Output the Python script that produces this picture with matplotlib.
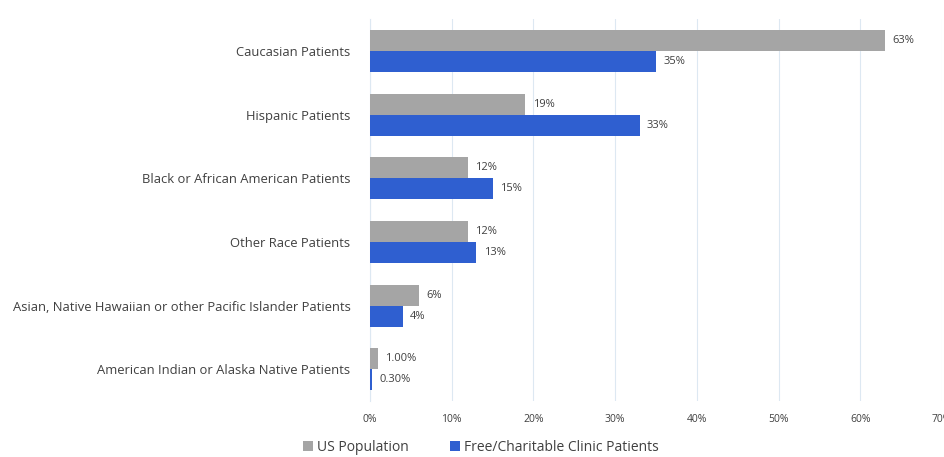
import matplotlib.pyplot as plt
import numpy as np

categories = ['Caucasian Patients', 'Hispanic Patients', 'Black or African American Patients',
              'Other Race Patients', 'Asian, Native Hawaiian or other Pacific Islander Patients',
              'American Indian or Alaska Native Patients']
us_population = [63, 19, 12, 12, 6, 1.0]
clinic_patients = [35, 33, 15, 13, 4, 0.3]
us_labels = ['63%', '19%', '12%', '12%', '6%', '1.00%']
clinic_labels = ['35%', '33%', '15%', '13%', '4%', '0.30%']

plt.rcParams['font.family'] = ['Open Sans', 'DejaVu Sans']
text_color = '#404040'

fig = plt.figure(figsize=[9.45, 4.57], dpi=100)
ax = fig.add_axes([0.3915, 0.1225, 0.6053, 0.8355])

y = np.arange(len(categories))
h = 0.33
ax.barh(y - h / 2, us_population, height=h, color='#A5A5A5', label='US Population', zorder=3)
ax.barh(y + h / 2, clinic_patients, height=h, color='#2F5FD0', label='Free/Charitable Clinic Patients', zorder=3)

for i in range(len(categories)):
    ax.text(us_population[i] + 0.9, y[i] - h / 2, us_labels[i], va='center', ha='left',
            fontsize=8, color=text_color)
    ax.text(clinic_patients[i] + 0.9, y[i] + h / 2, clinic_labels[i], va='center', ha='left',
            fontsize=8, color=text_color)

ax.set_ylim(len(categories) - 0.5, -0.5)
ax.set_yticks(y)
ax.set_yticklabels(categories, fontsize=9.4, color=text_color)
ax.set_xlim(0, 70)
ax.set_xticks(range(0, 71, 10))
ax.set_xticklabels([f'{v}%' for v in range(0, 71, 10)], fontsize=7.5, color=text_color)
ax.tick_params(length=0)
ax.tick_params(axis='y', pad=14)
ax.tick_params(axis='x', pad=9)
ax.grid(axis='x', color='#DDE8F2', linewidth=0.8, zorder=0)
for s in ['top', 'right', 'bottom']:
    ax.spines[s].set_visible(False)
ax.spines['left'].set_color('#DDE8F2')

ax.legend(loc='center', bbox_to_anchor=(0.194, -0.122), ncol=2, frameon=False,
          fontsize=10, handlelength=0.7, handleheight=0.7, handletextpad=0.3, columnspacing=3,
          labelcolor=text_color)

plt.savefig('out.png', dpi=100)
